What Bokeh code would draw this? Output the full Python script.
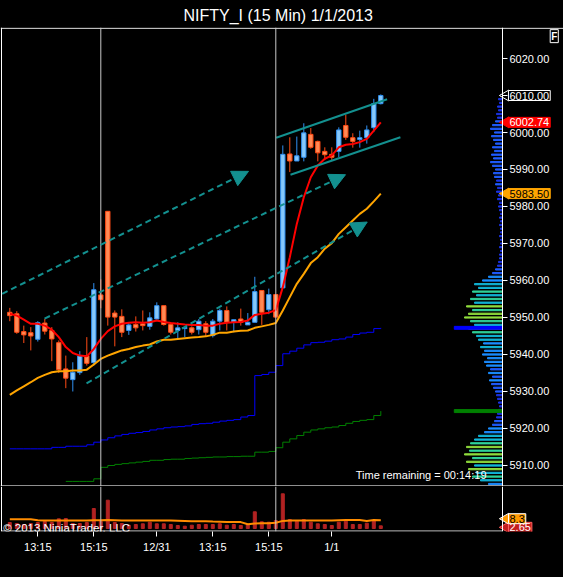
import math
from bokeh.plotting import figure
from bokeh.layouts import column
from bokeh.models import (Range1d, FixedTicker, NumeralTickFormatter, Span, Label,
                          Arrow, NormalHead, LinearAxis)
from bokeh.embed import file_html
from bokeh.resources import INLINE

FONT = "Liberation Sans"

# ---------------- data ----------------
opens = [5951.4, 5951.0, 5946.2, 5945.9, 5944.1, 5948.5, 5946.5, 5943.2, 5936.1, 5933.2,
         5935.1, 5939.7, 5937.8, 5956.1, 5978.7, 5951.2, 5950.3, 5946.5, 5948.1, 5948.3,
         5947.6, 5949.6, 5953.2, 5948.1, 5946.5, 5947.0, 5947.2, 5946.7, 5948.3, 5945.1,
         5949.0, 5951.9, 5948.7, 5949.6, 5948.0, 5948.7, 5957.3, 5952.1, 5956.2, 5958.0,
         5994.2, 5992.3, 5993.3, 5999.5, 5997.6, 5994.9, 5994.1, 5994.9, 6001.9, 5998.6,
         5998.1, 5998.6, 6001.3, 6007.8]
highs = [5952.6, 5951.7, 5947.8, 5947.4, 5949.0, 5949.6, 5947.4, 5943.8, 5939.7, 5937.9,
         5940.9, 5944.7, 5959.3, 5960.3, 5978.7, 5951.9, 5952.2, 5948.7, 5950.3, 5951.9,
         5951.4, 5954.1, 5953.2, 5948.7, 5948.7, 5947.3, 5947.6, 5949.6, 5949.0, 5949.6,
         5952.4, 5953.0, 5949.4, 5952.4, 5951.2, 5961.0, 5957.3, 5957.8, 5956.2, 5996.5,
         5998.7, 5998.9, 6002.5, 6001.2, 5997.8, 5996.0, 5996.0, 6001.4, 6004.8, 5999.8,
         6000.5, 6001.9, 6009.1, 6010.3]
lows = [5949.0, 5945.6, 5943.1, 5941.1, 5943.5, 5945.4, 5938.2, 5935.0, 5930.9, 5930.0,
        5934.5, 5937.0, 5937.0, 5952.5, 5947.8, 5942.2, 5944.7, 5945.3, 5946.2, 5946.5,
        5946.7, 5949.4, 5947.8, 5945.4, 5944.2, 5944.7, 5945.4, 5945.4, 5944.9, 5944.6,
        5946.5, 5946.5, 5946.0, 5947.8, 5948.0, 5948.7, 5948.0, 5950.9, 5950.1, 5958.0,
        5989.3, 5992.3, 5992.2, 5995.6, 5992.2, 5992.6, 5992.5, 5993.3, 5998.0, 5995.9,
        5995.9, 5997.0, 6000.1, 6007.6]
closes = [5950.5, 5946.0, 5945.3, 5945.0, 5948.6, 5946.3, 5944.2, 5935.9, 5933.6, 5935.2,
          5939.6, 5937.6, 5957.5, 5954.8, 5950.1, 5950.1, 5946.0, 5948.0, 5947.2, 5947.8,
          5949.9, 5953.2, 5948.1, 5946.0, 5947.2, 5947.3, 5946.0, 5949.0, 5946.0, 5949.0,
          5951.9, 5948.7, 5949.4, 5948.7, 5948.7, 5957.0, 5951.4, 5956.2, 5950.1, 5994.1,
          5992.3, 5993.7, 5999.9, 5996.0, 5994.5, 5994.0, 5993.3, 6000.7, 5998.7, 5997.6,
          5998.6, 6000.7, 6007.8, 6010.0]

ema_fast = [5951.0, 5950.5, 5949.4, 5948.3, 5948.3, 5947.8, 5946.7, 5944.7, 5942.0, 5940.4,
            5939.7, 5939.5, 5941.5, 5944.2, 5946.3, 5947.6, 5948.3, 5948.6, 5948.7, 5948.6,
            5948.7, 5949.2, 5948.8, 5948.5, 5948.3, 5948.1, 5948.0, 5948.0, 5947.8, 5947.8,
            5948.3, 5948.6, 5948.7, 5948.8, 5949.2, 5950.7, 5951.0, 5951.3, 5952.0, 5958.2,
            5966.3, 5975.3, 5982.5, 5987.9, 5991.1, 5992.9, 5993.8, 5996.0, 5996.7, 5996.9,
            5997.4, 5998.3, 6000.5, 6002.74]
ma_slow = [5929.1, 5930.3, 5931.4, 5932.5, 5933.7, 5934.5, 5935.2, 5935.5, 5935.5, 5935.7,
           5935.7, 5935.9, 5937.3, 5938.8, 5939.7, 5940.4, 5941.1, 5941.5, 5942.0, 5942.4,
           5942.7, 5943.5, 5944.0, 5944.0, 5944.2, 5944.4, 5944.6, 5944.7, 5944.9, 5945.3,
           5945.9, 5945.9, 5946.2, 5946.4, 5946.5, 5947.2, 5947.6, 5948.0, 5948.5, 5951.9,
           5955.5, 5959.1, 5961.8, 5964.7, 5966.3, 5968.6, 5970.1, 5972.6, 5974.4, 5976.2,
           5978.0, 5979.4, 5981.4, 5983.5]
blue_step = [5914.5, 5914.5, 5914.5, 5914.5, 5914.5, 5914.5, 5914.9, 5914.9, 5915.2, 5915.2,
             5915.2, 5915.6, 5916.3, 5916.9, 5917.5, 5918.0, 5918.4, 5918.7, 5918.9, 5919.2,
             5919.6, 5919.9, 5920.2, 5920.4, 5920.5, 5920.7, 5921.1, 5921.3, 5921.4, 5921.7,
             5922.0, 5922.2, 5922.4, 5923.1, 5923.5, 5934.3, 5934.6, 5935.2, 5937.0, 5940.2,
             5940.9, 5941.7, 5942.6, 5943.2, 5943.3, 5943.6, 5944.0, 5944.2, 5944.7, 5945.4,
             5945.8, 5946.0, 5947.0, 5947.2]
green_start = 8
green_step = [5905.7, 5905.7, 5905.7, 5905.7, 5906.4, 5909.5, 5910.0, 5910.3, 5910.5, 5910.7,
              5910.9, 5911.1, 5911.4, 5911.4, 5911.6, 5911.7, 5911.7, 5911.9, 5912.0, 5912.1,
              5912.2, 5912.3, 5912.3, 5912.4, 5912.4, 5912.5, 5912.5, 5913.6, 5913.6, 5913.8,
              5914.8, 5916.3, 5917.2, 5918.1, 5919.0, 5919.6, 5919.9, 5920.2, 5920.4, 5920.8,
              5921.4, 5921.9, 5922.2, 5922.4, 5923.5, 5924.7]

volume = [6, 5, 4, 5, 6, 7, 6, 9.7, 10, 5,
          5, 6, 20, 7, 28.3, 6, 5, 3.3, 4, 4.7,
          6.3, 4.7, 4.7, 4, 3, 2.3, 3.3, 4, 4, 4,
          4.7, 3.3, 4, 3, 4, 16.7, 6.7, 6.3, 8, 34.7,
          9, 7.3, 9, 6.3, 4.7, 4, 3, 6.3, 7.3, 4,
          4, 5.3, 8, 2.65]
volume_ma = [9.3, 9.3, 9.3, 9.3, 8.3, 8.0, 8.0, 8.0, 8.0, 8.0,
             8.0, 8.0, 8.2, 8.2, 8.4, 8.2, 8.0, 8.0, 8.0, 8.0,
             8.0, 8.0, 8.0, 8.0, 7.8, 7.6, 7.3, 7.3, 7.3, 7.0,
             6.8, 6.6, 6.6, 6.4, 4.2, 5.0, 5.2, 5.2, 5.8, 7.6,
             8.0, 8.0, 8.0, 8.0, 8.0, 8.0, 8.0, 8.3, 8.6, 8.6,
             8.4, 7.6, 8.6, 8.3]

profile_start = 5905
profile_len = [14, 22, 30, 26, 34, 28, 36, 30, 38, 33,
               36, 32, 28, 24, 18, 14, 10, 8, 6, 5,
               4, 3, 4, 5, 6, 7, 9, 11, 13, 10,
               14, 12, 16, 18, 15, 20, 18, 22, 19, 24,
               26, 30, 34, 28, 32, 38, 34, 30, 36, 28,
               32, 26, 30, 24, 28, 20, 14, 10, 7, 5,
               4, 3, 3, 2, 3, 2, 2, 3, 2, 2,
               3, 2, 3, 2, 3, 4, 3, 5, 4, 6,
               5, 7, 6, 8, 9, 7, 10, 12, 9, 11,
               8, 10, 7, 9, 11, 8, 12, 10, 7, 5,
               6, 4, 5, 3, 4, 2]

tick_bars = [4, 12, 21, 29, 37, 46]
tick_labels = ["13:15", "15:15", "12/31", "13:15", "15:15", "1/1"]
session_bars = [13, 38]
price_ticks = [5910, 5920, 5930, 5940, 5950, 5960, 5970, 5980, 5990, 6000, 6010, 6020]

# drawn objects (bar index, price)
arrow_x0 = [-1.09, 4.96, 10.96]
arrow_y0 = [5956.4, 5949.7, 5932.2]
arrow_x1 = [34.1, 47.96, 51.06]
arrow_y1 = [5989.5, 5988.6, 5975.8]
chan_x0 = [38.06, 40.1]
chan_y0 = [5998.6, 5988.6]
chan_x1 = [53.9, 55.8]
chan_y1 = [6009.0, 5998.7]

last_price = 6010.00
title_text = "NIFTY_I (15 Min)  1/1/2013"

# ---------------- layout constants ----------------
W = 563
PRICE_H = 486
VOL_H = 91
X0, X1 = -1.329, 79.1          # whole canvas width
LEFT_EDGE = -1.186             # panel left border
AXIS_X = 70.386                # price axis line
P0, P1 = 5904.32, 6028.38
V0, V1 = -3.0, 42.0
UP_FILL, UP_LINE = "#86c8fa", "#2f8ff0"
DN_FILL, DN_LINE = "#ff8a55", "#ff4a14"
TEAL = "#13908f"
FS = "11px"
TAG_X = 71.24
TRI_X = 70.85

idx = list(range(len(closes)))
up = [c >= o for o, c in zip(opens, closes)]


def pick(vals, mask):
    return [v for v, m in zip(vals, mask) if m]


p = figure(width=W, height=PRICE_H, x_range=Range1d(X0, X1),
           y_range=Range1d(P0, P1), output_backend="svg",
           toolbar_location=None, background_fill_color="black",
           border_fill_color="black", outline_line_color=None,
           min_border_left=0, min_border_right=0, min_border_top=27,
           min_border_bottom=0, x_axis_location=None, y_axis_location=None)
p.grid.visible = False
p.title.text = title_text
p.title.text_color = "white"
p.title.text_font = FONT
p.title.text_font_size = "16px"
p.title.text_font_style = "normal"
p.title.align = "left"
p.title.offset = 183
p.title.standoff = 7

ya = LinearAxis(fixed_location=AXIS_X)
ya.ticker = FixedTicker(ticks=price_ticks)
ya.formatter = NumeralTickFormatter(format="0.00")
ya.axis_line_color = "white"
ya.major_tick_line_color = "white"
ya.major_tick_out = 5
ya.major_tick_in = 0
ya.minor_tick_line_color = None
ya.major_label_text_color = "white"
ya.major_label_text_font = FONT
ya.major_label_text_font_size = FS
ya.major_label_standoff = 2
p.add_layout(ya, "right")

# panel borders
p.add_layout(Span(location=P1 - 0.2, dimension="width", line_color="white", line_width=1))
p.add_layout(Span(location=P0 + 0.15, dimension="width", line_color="white", line_width=1))
p.add_layout(Span(location=LEFT_EDGE, dimension="height", line_color="white", line_width=1))
for b in session_bars:
    p.add_layout(Span(location=b, dimension="height", line_color="#c8c8c8", line_width=1))

# volume profile at right edge
lv = [profile_start + k for k in range(len(profile_len))]


def prof_color(n):
    if n <= 6:
        return "#1a33e6"
    if n <= 12:
        return "#1f5cff"
    if n <= 20:
        return "#1a8cff"
    if n <= 28:
        return "#11b5d8"
    if n <= 33:
        return "#2fd39a"
    return "#8fdc3c"


p.hbar(y=lv, left=[AXIS_X - n / 7.0 for n in profile_len], right=AXIS_X, height=0.33,
       color=[prof_color(n) for n in profile_len])
p.hbar(y=[blue_step[-1]], left=63.5, right=AXIS_X, height=0.8, color="#0000ff")
p.hbar(y=[green_step[-1]], left=63.5, right=AXIS_X, height=0.8, color="#008000")

# step lines
p.step(idx, blue_step, mode="after", line_color="#0000ff", line_width=1)
p.step(idx[green_start:], green_step, mode="after", line_color="#008000", line_width=1)

# candles
for mask, fc, lc in ((up, UP_FILL, UP_LINE), ([not u for u in up], DN_FILL, DN_LINE)):
    xs = pick(idx, mask)
    p.segment(x0=xs, y0=pick(lows, mask), x1=xs, y1=pick(highs, mask), line_color=lc, line_width=1)
    o = pick(opens, mask)
    c = pick(closes, mask)
    p.vbar(x=xs, width=0.62, top=[max(a, b) for a, b in zip(o, c)],
           bottom=[min(a, b) for a, b in zip(o, c)], fill_color=fc, line_color=lc, line_width=1)

p.line(idx, ma_slow, line_color="#ffa500", line_width=2)
p.line(idx, ema_fast, line_color="#ff0000", line_width=2)

# drawing objects
for xa, ya0, xb, yb in zip(arrow_x0, arrow_y0, arrow_x1, arrow_y1):
    p.add_layout(Arrow(end=NormalHead(size=16, fill_color=TEAL, line_color=TEAL),
                       x_start=xa, y_start=ya0, x_end=xb, y_end=yb,
                       line_color=TEAL, line_width=2, line_dash="6 4"))
p.segment(x0=chan_x0, y0=chan_y0, x1=chan_x1, y1=chan_y1, line_color=TEAL, line_width=2)

p.add_layout(Label(x=68.1, y=5907.3, text="Time remaining = 00:14:19", text_align="right",
                   text_baseline="alphabetic", text_color="white", text_font=FONT,
                   text_font_size=FS))


def tag(fig, yv, text, bg, fg, border):
    fig.scatter([TRI_X], [yv], marker="triangle", angle=math.pi / 2, size=11,
                fill_color=bg, line_color=border)
    fig.add_layout(Label(x=TAG_X, y=yv, text=text, text_baseline="middle", text_color=fg,
                         text_font=FONT, text_font_size=FS, background_fill_color=bg,
                         border_line_color=border, padding=1))


tag(p, last_price, "%.2f" % last_price, "black", "white", "white")
tag(p, ema_fast[-1], "%.2f" % ema_fast[-1], "#ff0000", "white", "#ff0000")
tag(p, ma_slow[-1], "%.2f" % ma_slow[-1], "#ffa500", "black", "#ffa500")
p.add_layout(Label(x=77.2, y=6027.8, text="F", text_baseline="top",
                   text_color="white", text_font=FONT, text_font_size="10px",
                   text_font_style="bold", background_fill_color="black",
                   border_line_color="white", padding=1))

# ---------------- volume panel ----------------
v = figure(width=W, height=VOL_H, x_range=p.x_range, y_range=Range1d(V0, V1),
           output_backend="svg", toolbar_location=None, background_fill_color="black",
           border_fill_color="black", outline_line_color=None,
           min_border_left=0, min_border_right=0, min_border_top=0,
           min_border_bottom=46, y_axis_location=None)
v.grid.visible = False
xa_ = v.xaxis[0]
xa_.ticker = FixedTicker(ticks=tick_bars)
xa_.major_label_overrides = {float(t): s for t, s in zip(tick_bars, tick_labels)}
xa_.axis_line_color = None
xa_.major_tick_line_color = "white"
xa_.major_tick_out = 5
xa_.major_tick_in = 0
xa_.minor_tick_line_color = None
xa_.major_label_text_color = "white"
xa_.major_label_text_font = FONT
xa_.major_label_text_font_size = FS
xa_.major_label_standoff = 4

yv = LinearAxis(fixed_location=AXIS_X, ticker=FixedTicker(ticks=[]))
yv.axis_line_color = "white"
yv.major_label_text_font_size = "0px"
yv.minor_tick_line_color = None
yv.major_tick_line_color = None
v.add_layout(yv, "right")

v.add_layout(Span(location=LEFT_EDGE, dimension="height", line_color="white", line_width=1))
v.segment(x0=[LEFT_EDGE], y0=[V0 + 0.45], x1=[AXIS_X], y1=[V0 + 0.45], line_color="white",
          line_width=1)
for b in session_bars:
    v.add_layout(Span(location=b, dimension="height", line_color="#c8c8c8", line_width=1))

v.vbar(x=idx, top=volume, bottom=0, width=0.43, color="#b22222")
v.line(idx, volume_ma, line_color="#ff8c00", line_width=2)
v.add_layout(Label(x=-0.95, y=0.6, text="\u00a9 2013 NinjaTrader, LLC", text_baseline="alphabetic",
                   text_color="white", text_font=FONT, text_font_size="11.5px"))
tag(v, volume[-1] - 1.5, "%.2f" % volume[-1], "#c41e1e", "white", "#ff6060")
tag(v, volume_ma[-1] + 1.5, "%.1f" % volume_ma[-1], "#ff9900", "black", "white")

layout = column(p, v)
html = file_html(layout, INLINE)
html = html.replace("<head>", "<head><style>html,body{background:#000000;}</style>", 1)
open("out.html", "w").write(html)
